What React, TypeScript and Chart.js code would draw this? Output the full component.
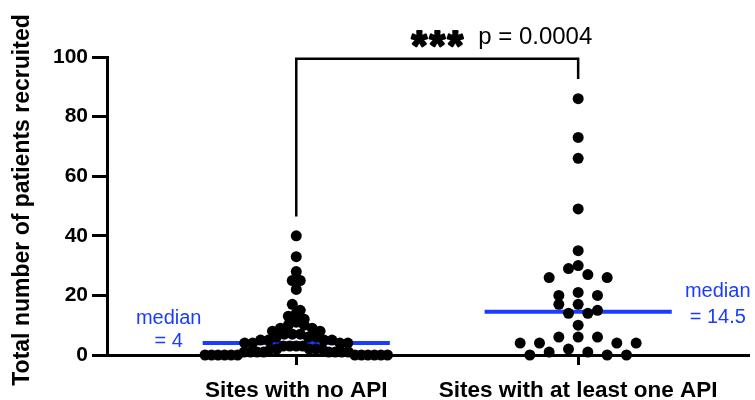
import React, { useEffect, useRef } from 'react';
import { Chart, registerables } from 'chart.js';

Chart.register(...registerables);

// ---- data ----
const categories = ['Sites with no API', 'Sites with at least one API'];
const noApiSites = [
  0, 0, 0, 0, 0, 0, 0, 0, 0, 0, 0, 0,
  1, 1, 1, 1, 1, 1, 1, 1,
  2, 2, 2, 2, 2,
  3, 3, 3, 3,
  4, 4, 4, 4,
  5, 5, 5, 5,
  6, 6, 6,
  7, 7, 7,
  8, 8, 9, 9, 10, 10, 11,
  12, 13, 14, 15, 17, 22, 25, 25, 28, 33, 40,
];
const apiSites = [
  86, 73, 66, 49, 35, 30, 29, 27, 26, 26, 21, 20, 20, 17, 17, 15,
  14, 14, 10, 6, 6, 6, 4, 4, 4, 4, 2, 1, 1, 0, 0, 0,
];
const yTicks = [0, 20, 40, 60, 80, 100];
const yTitle = 'Total number of patients recruited';
const significance = '***';
const pValueLabel = 'p = 0.0004';
const bracketTop = 99.4;
const bracketLeftBottom = 46.5;
const bracketRightBottom = 92.6;

const FONT = '"Liberation Sans", Arial, Helvetica, sans-serif';
const BLUE = '#1a3cff';
const DOT_R = 5.5;
const MEDIAN_HALF = 0.332;

function median(arr: number[]): number {
  const s = [...arr].sort((a, b) => a - b);
  const n = s.length;
  return n % 2 ? s[(n - 1) / 2] : (s[n / 2 - 1] + s[n / 2]) / 2;
}

function formatNum(v: number): string {
  return Number.isInteger(v) ? String(v) : v.toFixed(1);
}

// Prism-like binned swarm: points binned into rows (row height = dot diameter),
// spread symmetrically within each row.
function swarm(values: number[], center: number, chart: any, capPx: number, maxHalfPx: number) {
  const xs = chart.scales.x;
  const ys = chart.scales.y;
  const pxX = xs.getPixelForValue(2) - xs.getPixelForValue(1);
  const pxY = Math.abs(ys.getPixelForValue(0) - ys.getPixelForValue(1));
  const dia = DOT_R * 2;
  const bins = new Map<number, number[]>();
  values.forEach((v) => {
    const b = Math.floor((v * pxY) / dia);
    if (!bins.has(b)) bins.set(b, []);
    bins.get(b)!.push(v);
  });
  const out: { x: number; y: number }[] = [];
  bins.forEach((vals) => {
    const n = vals.length;
    vals.sort((a, b) => b - a);
    const s = n > 1 ? Math.min(capPx, (2 * maxHalfPx) / (n - 1)) : 0;
    const pos: number[] = [];
    for (let k = 0; k < n; k++) pos.push((k - (n - 1) / 2) * s);
    pos.sort((a, b) => Math.abs(a) - Math.abs(b) || a - b);
    vals.forEach((v, i) => out.push({ x: center + pos[i] / pxX, y: v }));
  });
  return out;
}

export default function App() {
  const ref = useRef<HTMLCanvasElement | null>(null);

  useEffect(() => {
    if (!ref.current) return;
    const m1 = median(noApiSites);
    const m2 = median(apiSites);

    const annot = {
      id: 'annot',
      afterDraw(chart: any) {
        const ctx = chart.ctx;
        const xs = chart.scales.x;
        const ys = chart.scales.y;
        const x1 = xs.getPixelForValue(1);
        const x2 = xs.getPixelForValue(2);
        ctx.save();
        // y title
        ctx.save();
        ctx.translate(23, 200);
        ctx.rotate(-Math.PI / 2);
        ctx.fillStyle = '#000';
        ctx.font = `bold 23px ${FONT}`;
        ctx.textAlign = 'center';
        ctx.textBaseline = 'middle';
        ctx.fillText(yTitle, 0, 0);
        ctx.restore();
        // bracket
        ctx.strokeStyle = '#000';
        ctx.lineWidth = 2.5;
        ctx.lineCap = 'butt';
        ctx.lineJoin = 'miter';
        ctx.beginPath();
        ctx.moveTo(x1, ys.getPixelForValue(bracketLeftBottom));
        ctx.lineTo(x1, ys.getPixelForValue(bracketTop));
        ctx.lineTo(x2, ys.getPixelForValue(bracketTop));
        ctx.lineTo(x2, ys.getPixelForValue(bracketRightBottom));
        ctx.stroke();
        // significance
        const mid = (x1 + x2) / 2;
        const topY = ys.getPixelForValue(bracketTop);
        ctx.fillStyle = '#000';
        ctx.strokeStyle = '#000';
        ctx.lineWidth = 2.2;
        ctx.lineJoin = 'round';
        ctx.font = `bold 40px ${FONT}`;
        ctx.textAlign = 'center';
        ctx.textBaseline = 'alphabetic';
        const stars = significance.split('');
        stars.forEach((c, i) => {
          const sx = mid + (i - (stars.length - 1) / 2) * 18;
          ctx.fillText(c, sx, topY);
          ctx.strokeText(c, sx, topY);
        });
        ctx.font = `24px ${FONT}`;
        ctx.textAlign = 'left';
        ctx.fillText(pValueLabel, mid + 41, topY - 15);
        // median labels
        ctx.fillStyle = BLUE;
        ctx.font = `20px ${FONT}`;
        ctx.textAlign = 'center';
        const l1 = xs.getPixelForValue(1 - MEDIAN_HALF) - 34;
        const y1 = ys.getPixelForValue(m1);
        ctx.fillText('median', l1, y1 - 19);
        ctx.fillText('= ' + formatNum(m1), l1, y1 + 4);
        const l2 = xs.getPixelForValue(2 + MEDIAN_HALF) + 46;
        const y2 = ys.getPixelForValue(m2);
        ctx.fillText('median', l2, y2 - 14.5);
        ctx.fillText('= ' + formatNum(m2), l2, y2 + 11.5);
        ctx.restore();
      },
    };

    const chart: any = new Chart(ref.current, {
      type: 'scatter',
      data: {
        datasets: [
          {
            label: categories[0],
            data: [],
            pointRadius: DOT_R,
            pointHoverRadius: DOT_R,
            backgroundColor: '#000',
            borderWidth: 0,
            order: 1,
            clip: false,
          } as any,
          {
            label: categories[1],
            data: [],
            pointRadius: DOT_R,
            pointHoverRadius: DOT_R,
            backgroundColor: '#000',
            borderWidth: 0,
            order: 1,
            clip: false,
          } as any,
          {
            type: 'line',
            label: 'median 1',
            data: [
              { x: 1 - MEDIAN_HALF, y: m1 },
              { x: 1 + MEDIAN_HALF, y: m1 },
            ],
            borderColor: BLUE,
            borderWidth: 4,
            pointRadius: 0,
            showLine: true,
            order: 2,
            borderCapStyle: 'butt',
          } as any,
          {
            type: 'line',
            label: 'median 2',
            data: [
              { x: 2 - MEDIAN_HALF, y: m2 },
              { x: 2 + MEDIAN_HALF, y: m2 },
            ],
            borderColor: BLUE,
            borderWidth: 4,
            pointRadius: 0,
            showLine: true,
            order: 2,
            borderCapStyle: 'butt',
          } as any,
        ],
      },
      options: {
        animation: false,
        responsive: false,
        maintainAspectRatio: false,
        layout: { padding: { top: 57, left: 0, right: 0, bottom: 0 } },
        plugins: { legend: { display: false }, tooltip: { enabled: false } },
        scales: {
          x: {
            type: 'linear',
            min: 0.3286,
            max: 2.6078,
            afterBuildTicks: (s: any) => {
              s.ticks = categories.map((_, i) => ({ value: i + 1 }));
            },
            afterFit: (s: any) => {
              s.height = 45;
            },
            ticks: {
              callback: (v: any) => categories[Math.round(v) - 1] ?? '',
              font: { family: FONT, size: 22.5, weight: 'bold' },
              color: '#000',
              padding: 12,
              maxRotation: 0,
              autoSkip: false,
            },
            grid: {
              drawOnChartArea: false,
              drawTicks: true,
              tickLength: 10,
              tickWidth: 3,
              tickColor: '#000',
              color: '#000',
            },
            border: { display: true, color: '#000', width: 3 },
          },
          y: {
            min: 0,
            max: 100,
            afterBuildTicks: (s: any) => {
              s.ticks = yTicks.map((v) => ({ value: v }));
            },
            afterFit: (s: any) => {
              s.width = 107;
            },
            ticks: {
              font: { family: FONT, size: 21, weight: 'bold' },
              color: '#000',
              padding: 4,
            },
            grid: {
              drawOnChartArea: false,
              drawTicks: true,
              tickLength: 15,
              tickWidth: 3,
              tickColor: '#000',
              color: '#000',
            },
            border: { display: true, color: '#000', width: 3 },
            title: { display: false },
          },
        },
      },
      plugins: [annot],
    });

    chart.data.datasets[0].data = swarm(noApiSites, 1, chart, 8, 92);
    chart.data.datasets[1].data = swarm(apiSites, 2, chart, 19.5, 92);
    chart.update();

    return () => chart.destroy();
  }, []);

  return (
    <div style={{ position: 'absolute', left: 0, top: 0, width: 755, height: 400, background: '#fff' }}>
      <canvas ref={ref} width={755} height={400} style={{ display: 'block' }} />
    </div>
  );
}
